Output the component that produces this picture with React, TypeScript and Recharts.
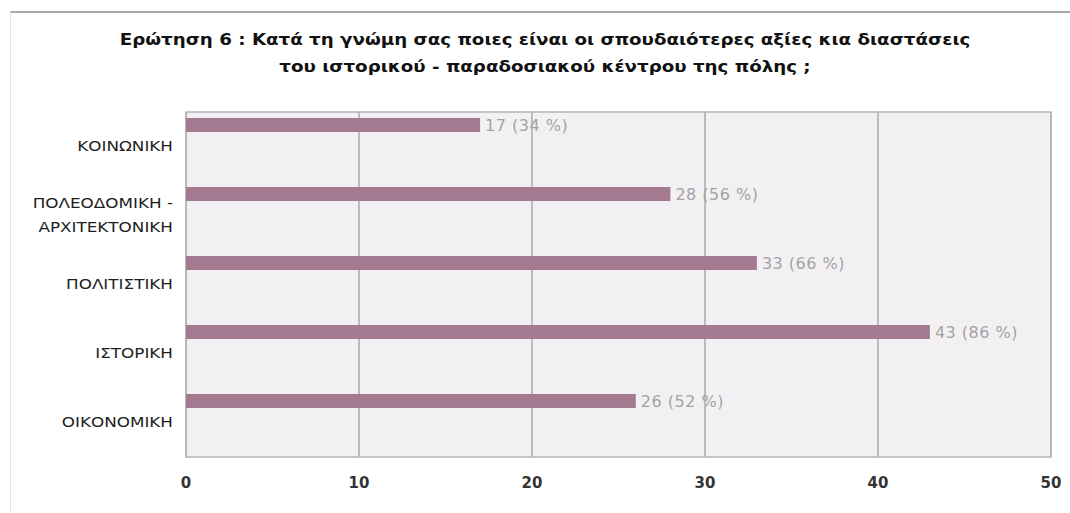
import React from "react";
import { BarChart, Bar, XAxis, YAxis, CartesianGrid, ReferenceArea, LabelList } from "recharts";

// Question 6 — most important values/dimensions of the historic centre.
const categories = ["ΚΟΙΝΩΝΙΚΗ", "ΠΟΛΕΟΔΟΜΙΚΗ - ΑΡΧΙΤΕΚΤΟΝΙΚΗ", "ΠΟΛΙΤΙΣΤΙΚΗ", "ΙΣΤΟΡΙΚΗ", "ΟΙΚΟΝΟΜΙΚΗ"];
const counts = [17, 28, 33, 43, 26];
const percents = [34, 56, 66, 86, 52];
const xTicks = [0, 10, 20, 30, 40, 50];

const titleLines = [
  "Ερώτηση 6 : Κατά τη γνώμη σας ποιες είναι οι σπουδαιότερες αξίες κια διαστάσεις",
  "του ιστορικού - παραδοσιακού κέντρου της πόλης ;",
];

const FONT = "'DejaVu Sans', Verdana, sans-serif";
const BAR = "#a47a91";

const data = categories.map((name, i) => ({ name, value: counts[i], pct: percents[i] }));

// the scanned original uses a wide Verdana-like face, so stretch horizontally
function CategoryTick({ x = 0, y = 0, payload }: { x?: number; y?: number; payload?: { value: string } }) {
  const label = payload?.value ?? "";
  const lines = label.includes(" - ") ? [label.split(" - ")[0] + " -", label.split(" - ")[1]] : [label];
  const lh = 24;
  const start = -((lines.length - 1) * lh) / 2;
  return (
    <g transform={`translate(${x},0) scale(1.2,1) translate(${-x},0)`}>
      <text x={x} y={y} textAnchor="end" fontFamily={FONT} fontSize={14} fill="#1e1e1e">
        {lines.map((l, i) => (
          <tspan key={i} x={x} dy={i === 0 ? start + 5 : lh}>
            {l}
          </tspan>
        ))}
      </text>
    </g>
  );
}

export default function App() {
  return (
    <div style={{ position: "absolute", left: 0, top: 0, width: 1070, height: 513, overflow: "hidden", background: "#fff" }}>
      <div
        style={{
          position: "absolute",
          left: 10,
          top: 11,
          width: 1080,
          height: 520,
          borderTop: "2px solid #a8a8a8",
          borderLeft: "1px solid #e2e2e2",
        }}
      />
      {titleLines.map((t, i) => (
        <div
          key={i}
          style={{
            position: "absolute",
            left: 0,
            width: 1090,
            top: 30 + i * 27,
            textAlign: "center",
            fontFamily: FONT,
            fontWeight: "bold",
            fontSize: 16,
            transform: "scaleX(1.14)",
            transformOrigin: "center",
            color: "#111",
            whiteSpace: "nowrap",
          }}
        >
          {t}
        </div>
      ))}
      <div style={{ position: "absolute", left: 0, top: 0 }}>
        <BarChart
          width={1070}
          height={513}
          data={data}
          layout="vertical"
          margin={{ top: 112, right: 19, bottom: 0, left: 0 }}
          barGap={29}
          barSize={14}
        >
          <CartesianGrid horizontal={false} stroke="#858585" fill="#f3f0f4" fillOpacity={1} />
          <ReferenceArea x1={0} x2={50} fill="none" stroke="#b5b5b5" strokeWidth={1.5} />
          <XAxis
            type="number"
            domain={[0, 50]}
            ticks={xTicks}
            axisLine={false}
            tickLine={false}
            tickSize={0}
            tickMargin={20}
            height={56}
            tick={{ fontFamily: FONT, fontSize: 15, fontWeight: "bold", fill: "#333" }}
          />
          <YAxis
            type="category"
            dataKey="name"
            width={186}
            axisLine={false}
            tickLine={false}
            tickSize={0}
            tickMargin={13}
            interval={0}
            tick={<CategoryTick />}
          />
          <Bar dataKey="value" fill={BAR} isAnimationActive={false}>
            <LabelList
              dataKey="value"
              position="right"
              offset={5}
              content={(p: any) => {
                const d = data[p.index];
                return (
                  <text
                    x={p.x + p.width + 5}
                    y={p.y + p.height / 2}
                    dominantBaseline="central"
                    fontFamily={FONT}
                    fontSize={16}
                    letterSpacing={0.5}
                    fill="#a3a3a3"
                  >
                    {`${d.value} (${d.pct} %)`}
                  </text>
                );
              }}
            />
          </Bar>
          {/* spacer series keeps the drawn bar at the top of each band */}
          <Bar dataKey="value" fill="transparent" isAnimationActive={false} />
        </BarChart>
      </div>
    </div>
  );
}
